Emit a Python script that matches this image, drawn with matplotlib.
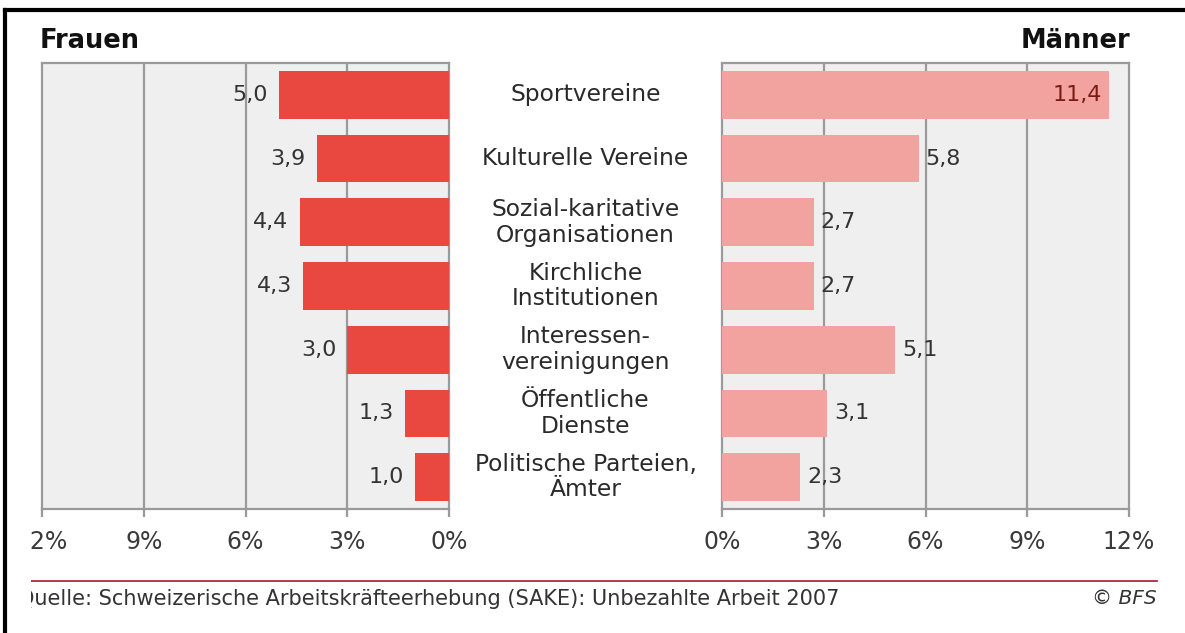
import matplotlib
matplotlib.use("Agg")
import matplotlib.pyplot as plt
from matplotlib.lines import Line2D
from matplotlib.patches import Rectangle
from matplotlib.transforms import blended_transform_factory

categories = ["Sportvereine", "Kulturelle Vereine", "Sozial-karitative\nOrganisationen",
              "Kirchliche\nInstitutionen", "Interessen-\nvereinigungen",
              "Öffentliche\nDienste", "Politische Parteien,\nÄmter"]
frauen = [5.0, 3.9, 4.4, 4.3, 3.0, 1.3, 1.0]
maenner = [11.4, 5.8, 2.7, 2.7, 5.1, 3.1, 2.3]
ticks = [0, 3, 6, 9, 12]
tick_labels = ["0%", "3%", "6%", "9%", "12%"]

plt.rcParams['font.family'] = ['DejaVu Sans']

W, H = 1185, 633
fig = plt.figure(figsize=(W / 100, H / 100), dpi=100)
fig.patch.set_facecolor("white")

def fx(px):
    return px / W

def fy(py):
    return 1 - py / H

top, bottom = 63, 509
axL = fig.add_axes([fx(42), fy(bottom), fx(449) - fx(42), fy(top) - fy(bottom)])
axR = fig.add_axes([fx(722), fy(bottom), fx(1129) - fx(722), fy(top) - fy(bottom)])

grid_c = "#9a9a9a"
ypos = list(range(len(categories)))

for ax, vals, color in [(axL, frauen, "#e8483f"), (axR, maenner, "#f2a39f")]:
    ax.set_facecolor("#efefef")
    ax.barh(ypos, vals, height=0.75, color=color, zorder=3)
    ax.set_ylim(len(categories) - 0.5, -0.5)
    ax.set_yticks([])
    ax.set_xticks(ticks)
    ax.set_xticklabels(tick_labels)
    ax.tick_params(axis="x", direction="out", length=6, width=1.6, color=grid_c,
                   labelsize=17, labelcolor="#3a3a3a", pad=9)
    for s in ax.spines.values():
        s.set_color(grid_c)
        s.set_linewidth(1.6)
    for t in [3, 6, 9]:
        ax.axvline(t, color=grid_c, lw=1.6, zorder=2)

axL.set_xlim(12, 0)
axR.set_xlim(0, 12)

for i, v in enumerate(frauen):
    axL.annotate(f"{v:.1f}".replace(".", ","), (v, i), xytext=(-8, 0),
                 textcoords="offset points", ha="right", va="center",
                 fontsize=16, color="#333333", zorder=4)

for i, v in enumerate(maenner):
    lab = f"{v:.1f}".replace(".", ",")
    if v > 10:
        axR.annotate(lab, (v, i), xytext=(-5, 0), textcoords="offset points",
                     ha="right", va="center", fontsize=16, color="#7a1a14", zorder=4)
    else:
        axR.annotate(lab, (v, i), xytext=(5, 0), textcoords="offset points",
                     ha="left", va="center", fontsize=16, color="#333333", zorder=4)

trans = blended_transform_factory(fig.transFigure, axL.transData)
for i, c in enumerate(categories):
    fig.text(fx(585.5), i, c, transform=trans, ha="center", va="center",
             fontsize=16.8, color="#2a2a2a", linespacing=1.15)

fig.text(fx(40), fy(41), "Frauen", ha="left", va="center", fontsize=18.5,
         fontweight="bold", color="#111111")
fig.text(fx(1130), fy(41), "Männer", ha="right", va="center", fontsize=18.5,
         fontweight="bold", color="#111111")

# footer
fig.add_artist(Line2D([fx(28), fx(1157)], [fy(581), fy(581)], color="#b0283a", lw=1.3))
fig.text(fx(18), fy(599), "Quelle: Schweizerische Arbeitskräfteerhebung (SAKE): Unbezahlte Arbeit 2007",
         ha="left", va="center", fontsize=15, color="#333333")
fig.text(fx(1157), fy(599), "© BFS", ha="right", va="center", fontsize=14.5,
         style="italic", color="#333333")

# cropped-edge mask and frame
fig.add_artist(Rectangle((fx(7), 0), fx(31) - fx(7), fy(12), transform=fig.transFigure,
                         facecolor="white", edgecolor="none", zorder=10))
fig.add_artist(Line2D([fx(5), fx(5)], [0, fy(10)], color="black", lw=3, zorder=11))
fig.add_artist(Line2D([fx(5), 1], [fy(10), fy(10)], color="black", lw=3, zorder=11))

fig.savefig("out.png", dpi=100)
